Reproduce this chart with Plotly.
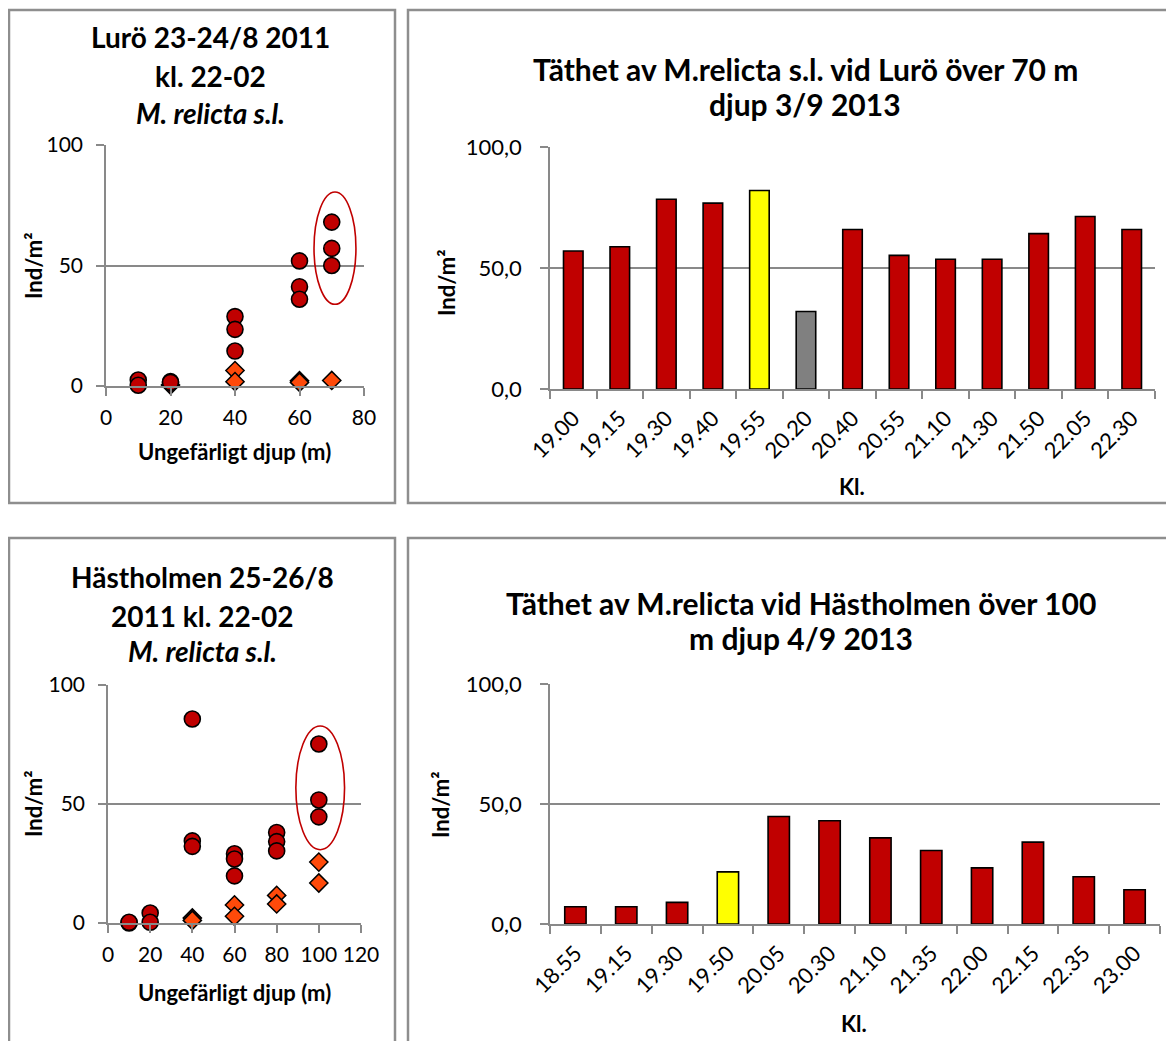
import plotly.graph_objects as go

# ---------------- DATA ----------------
# Lurö 23-24/8 2011 scatter
luro_circle_x = [10, 10, 20, 20, 40, 40, 40, 60, 60, 60, 70, 70, 70]
luro_circle_y = [2.5, 0.3, 1.8, 1.5, 28.8, 23.5, 14.5, 51.9, 41.2, 36.0, 68.0, 57.1, 50.0]
luro_diam_x = [40, 40, 60, 70]
luro_diam_y = [6.4, 1.8, 1.5, 2.3]
luro_dark_x = [20, 60]
luro_dark_y = [0.4, 2.2]

# Hästholmen 25-26/8 2011 scatter
hast_circle_x = [10, 10, 20, 20, 40, 40, 40, 60, 60, 60, 80, 80, 80, 100, 100, 100]
hast_circle_y = [0.0, 0.3, 4.2, 0.3, 85.7, 34.5, 32.2, 29.1, 26.9, 19.8, 38.0, 34.2, 30.3, 75.2, 51.7, 44.6]
hast_diam_x = [40, 60, 60, 80, 80, 100, 100]
hast_diam_y = [1.1, 7.6, 2.8, 11.6, 8.0, 25.6, 16.8]
hast_dark_x = [40]
hast_dark_y = [2.1]

# Lurö 3/9 2013 bars
luro_times = ["19.00", "19.15", "19.30", "19.40", "19.55", "20.20", "20.40",
              "20.55", "21.10", "21.30", "21.50", "22.05", "22.30"]
luro_vals = [57.0, 58.8, 78.4, 76.8, 82.0, 32.0, 65.9, 55.2, 53.6, 53.6, 64.2, 71.3, 65.9]

# Hästholmen 4/9 2013 bars
hast_times = ["18.55", "19.15", "19.30", "19.50", "20.05", "20.30", "21.10",
              "21.35", "22.00", "22.15", "22.35", "23.00"]
hast_vals = [7.2, 7.2, 9.0, 21.7, 44.8, 43.0, 35.9, 30.6, 23.4, 34.1, 19.7, 14.3]

# ---------------- STYLE ----------------
W, H = 1174, 1041
OFF = 8  # page body margin
RED = "#C00000"
ORANGE = "#FF4A0A"
DARK = "#3A0A0A"
YELLOW = "#FFFF00"
GREY_BAR = "#808080"
AXIS = "#898989"
FONT = "Lato"

luro_highlight = {"19.55": YELLOW, "20.20": GREY_BAR}
hast_highlight = {"19.50": YELLOW}
luro_colors = [luro_highlight.get(t, RED) for t in luro_times]
hast_colors = [hast_highlight.get(t, RED) for t in hast_times]


def px_x(p):
    return (p - OFF) / W


def px_y(p):
    return 1 - (p - OFF) / H


fig = go.Figure()


def add_scatter(xa, ya, dx, dy, ox, oy, cx, cy):
    fig.add_trace(go.Scatter(x=dx, y=dy, mode="markers", xaxis=xa, yaxis=ya,
                             marker=dict(symbol="diamond", size=14, color=DARK,
                                         line=dict(color="black", width=1.5)),
                             showlegend=False, cliponaxis=False))
    fig.add_trace(go.Scatter(x=ox, y=oy, mode="markers", xaxis=xa, yaxis=ya,
                             marker=dict(symbol="diamond", size=14, color=ORANGE,
                                         line=dict(color="black", width=1.5)),
                             showlegend=False, cliponaxis=False))
    fig.add_trace(go.Scatter(x=cx, y=cy, mode="markers", xaxis=xa, yaxis=ya,
                             marker=dict(symbol="circle", size=16, color=RED,
                                         line=dict(color="black", width=1.6)),
                             showlegend=False, cliponaxis=False))


add_scatter("x", "y", luro_dark_x, luro_dark_y, luro_diam_x, luro_diam_y,
            luro_circle_x, luro_circle_y)
add_scatter("x3", "y3", hast_dark_x, hast_dark_y, hast_diam_x, hast_diam_y,
            hast_circle_x, hast_circle_y)

fig.add_trace(go.Bar(x=luro_times, y=luro_vals, xaxis="x2", yaxis="y2",
                     marker=dict(color=luro_colors, line=dict(color="black", width=1.6)),
                     showlegend=False))
fig.add_trace(go.Bar(x=hast_times, y=hast_vals, xaxis="x4", yaxis="y4",
                     marker=dict(color=hast_colors, line=dict(color="black", width=1.6)),
                     showlegend=False))

sc_tick = dict(family=FONT, size=21, color="black")
bar_tick = dict(family=FONT, size=22, color="black")

common_y = dict(range=[0, 100], tickvals=[0, 50, 100], showgrid=True, gridcolor=AXIS,
                gridwidth=1.6, showline=True, linecolor=AXIS, linewidth=1.6,
                ticks="outside", ticklen=8, tickcolor=AXIS, tickwidth=1.6,
                zeroline=False, fixedrange=True, automargin=False)
common_x = dict(showgrid=False, showline=True, linecolor=AXIS, linewidth=1.6,
                ticks="outside", ticklen=8, tickcolor=AXIS, tickwidth=1.6,
                zeroline=False, automargin=False, fixedrange=True)

fig.update_layout(
    width=W, height=H, autosize=False,
    margin=dict(l=0, r=0, t=0, b=0, pad=0, autoexpand=False),
    paper_bgcolor="white", plot_bgcolor="white",
    separators=", ",
    bargap=0.58,
    showlegend=False,
    font=dict(family=FONT, color="black"),
    xaxis=dict(domain=[px_x(106), px_x(364)], anchor="y", range=[0, 80], dtick=20,
               ticklabelstandoff=4, tickfont=sc_tick, **common_x),
    yaxis=dict(domain=[px_y(386), px_y(145)], anchor="x", ticklabelstandoff=9,
               tickfont=sc_tick, **common_y),
    xaxis3=dict(domain=[px_x(108), px_x(361)], anchor="y3", range=[0, 120], dtick=20,
                ticklabelstandoff=4, tickfont=sc_tick, **common_x),
    yaxis3=dict(domain=[px_y(923), px_y(685)], anchor="x3", ticklabelstandoff=9,
                tickfont=sc_tick, **common_y),
    xaxis2=dict(domain=[px_x(550), px_x(1155)], anchor="y2", type="category",
                tickson="boundaries", tickangle=-45, ticklabelstandoff=6,
                tickfont=bar_tick, **common_x),
    yaxis2=dict(domain=[px_y(389), px_y(147)], anchor="x2", tickformat=".1f",
                ticklabelstandoff=14, tickfont=bar_tick, **common_y),
    xaxis4=dict(domain=[px_x(550), px_x(1160)], anchor="y4", type="category",
                tickson="boundaries", tickangle=-45, ticklabelstandoff=6,
                tickfont=bar_tick, **common_x),
    yaxis4=dict(domain=[px_y(924), px_y(684)], anchor="x4", tickformat=".1f",
                ticklabelstandoff=14, tickfont=bar_tick, **common_y),
)

# panel borders
BORDER = "#8E8E8E"
for (x0, y0, x1, y1) in [(9, 10, 395, 503), (408, 10, 1190, 503),
                         (9, 538, 395, 1060), (408, 538, 1190, 1060)]:
    fig.add_shape(type="rect", xref="paper", yref="paper",
                  x0=px_x(x0), x1=px_x(x1), y0=px_y(y1), y1=px_y(y0),
                  line=dict(color=BORDER, width=2.5), fillcolor="rgba(0,0,0,0)",
                  layer="below")

# red ellipses around deepest samples
fig.add_shape(type="circle", xref="x", yref="y", x0=64.5, x1=77.5, y0=33.9, y1=80.5,
              line=dict(color=RED, width=1.6))
fig.add_shape(type="circle", xref="x3", yref="y3", x0=89.1, x1=112.2, y0=30.8, y1=82.8,
              line=dict(color=RED, width=1.6))


def ann(text, x, y, size, bold=True, italic=False, angle=0):
    t = text
    if italic:
        t = "<i>" + t + "</i>"
    if bold:
        t = "<b>" + t + "</b>"
    fig.add_annotation(text=t, x=px_x(x), y=px_y(y), xref="paper", yref="paper",
                       xanchor="center", yanchor="middle", showarrow=False,
                       textangle=angle, font=dict(family=FONT, size=size, color="black"))


# titles
ann("Lurö 23-24/8 2011", 210, 37, 28)
ann("kl. 22-02", 210, 76, 28)
ann("M. relicta s.l.", 210, 113, 28, italic=True)
ann("Hästholmen 25-26/8", 202, 577, 28)
ann("2011 kl. 22-02", 202, 616, 28)
ann("M. relicta s.l.", 202, 651, 28, italic=True)
ann("Täthet av M.relicta s.l. vid Lurö över 70 m", 805, 69, 30)
ann("djup 3/9 2013", 805, 104, 30)
ann("Täthet av M.relicta vid Hästholmen över 100", 801, 603, 30)
ann("m djup 4/9 2013", 801, 638, 30)

# axis titles
ann("Ungefärligt djup (m)", 234, 452, 22)
ann("Ungefärligt djup (m)", 234, 992, 22)
ann("Ind/m²", 33, 266, 22, angle=-90)
ann("Ind/m²", 33, 804, 22, angle=-90)
ann("Ind/m²", 446, 283, 22, angle=-90)
ann("Ind/m²", 440, 805, 22, angle=-90)
ann("Kl.", 852, 486, 22)
ann("Kl.", 854, 1023, 22)

fig.write_html("out.html")
